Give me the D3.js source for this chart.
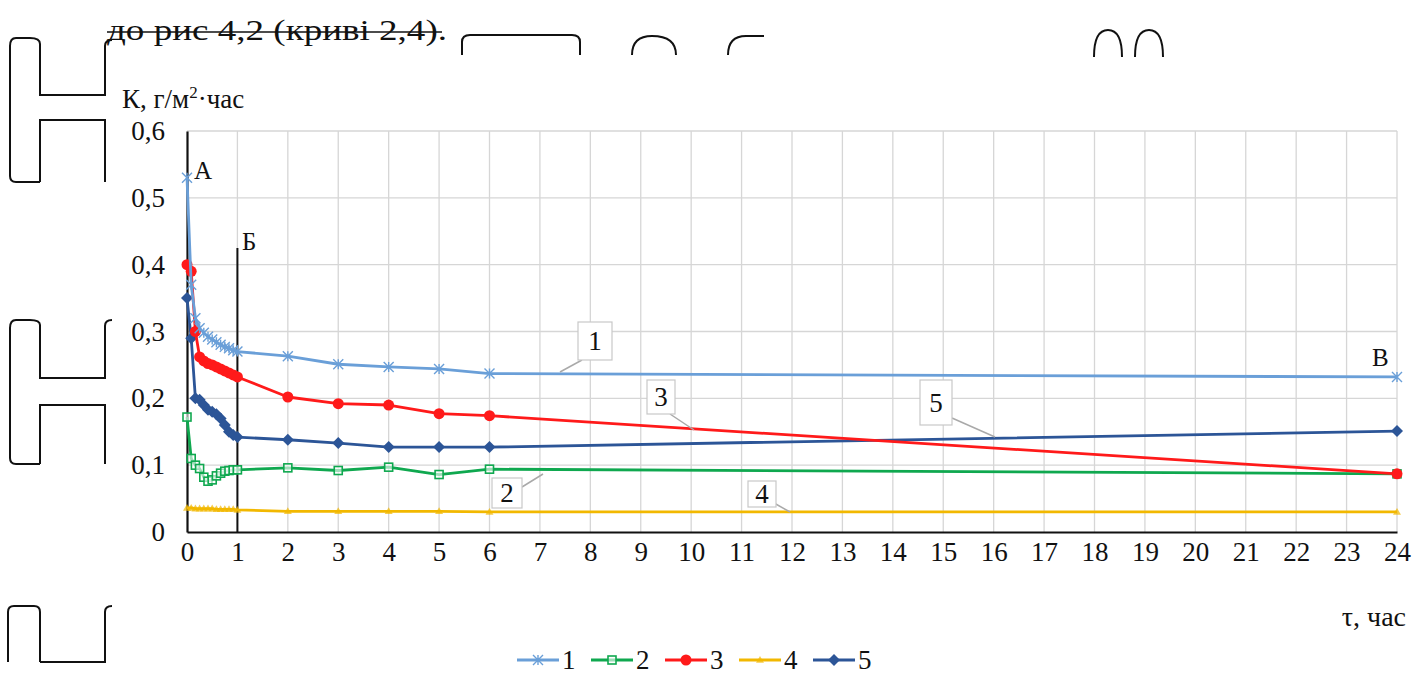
<!DOCTYPE html>
<html>
<head>
<meta charset="utf-8">
<script src="https://cdn.jsdelivr.net/npm/d3@7/dist/d3.min.js"></script>
<style>
  html, body { margin: 0; padding: 0; background: #fff; }
  svg { display: block; }
</style>
</head>
<body>
<svg id="chart" width="1413" height="675" style="font-family: 'Liberation Serif', 'Times New Roman', serif"></svg>
<script>
// Time points, hours: dense readings in the first hour, then hourly to 6 h and the 24 h reading
const times = [0, 1/12, 2/12, 3/12, 4/12, 5/12, 6/12, 7/12, 8/12, 9/12, 10/12, 11/12, 1, 2, 3, 4, 5, 6, 24];

// Corrosion rate K, g/m²·h, for curves 1–5
const series1 = [0.530, 0.370, 0.320, 0.305, 0.298, 0.292, 0.288, 0.284, 0.280, 0.277, 0.275, 0.272, 0.270, 0.263, 0.251, 0.247, 0.244, 0.237, 0.232];
const series2 = [0.172, 0.110, 0.100, 0.095, 0.082, 0.076, 0.078, 0.084, 0.088, 0.091, 0.092, 0.093, 0.093, 0.096, 0.092, 0.097, 0.086, 0.094, 0.087];
const series3 = [0.400, 0.390, 0.300, 0.262, 0.256, 0.252, 0.250, 0.247, 0.244, 0.241, 0.238, 0.235, 0.232, 0.202, 0.192, 0.190, 0.177, 0.174, 0.087];
const series4 = [0.036, 0.036, 0.035, 0.035, 0.035, 0.035, 0.035, 0.034, 0.034, 0.034, 0.034, 0.034, 0.033, 0.031, 0.031, 0.031, 0.031, 0.030, 0.030];
const series5 = [0.350, 0.290, 0.200, 0.198, 0.190, 0.183, 0.180, 0.176, 0.170, 0.160, 0.150, 0.145, 0.142, 0.138, 0.133, 0.127, 0.127, 0.127, 0.151];

const seriesNames = ["1", "2", "3", "4", "5"];
const seriesValues = [series1, series2, series3, series4, series5];
const seriesColors = ["#6a9fd8", "#0fa84f", "#ff1a1a", "#f2b800", "#2c5597"];
const seriesMarkers = ["cross", "square", "circle", "triangle", "diamond"];

const xTicks = d3.range(0, 25);
const yTicks = [0, 0.1, 0.2, 0.3, 0.4, 0.5, 0.6];

const FONT = "Liberation Serif";
const svg = d3.select("#chart");
const x = d3.scaleLinear().domain([0, 24]).range([187, 1397]);
const y = d3.scaleLinear().domain([0, 0.6]).range([532, 131]);
const fmt = v => (v === 0 ? "0" : d3.format(".1f")(v).replace(".", ","));

// text helper: serif face set on every label
function label(parent, px, py, size, str) {
  return parent.append("text").attr("x", px).attr("y", py)
    .style("font-family", FONT).style("font-size", size + "px").attr("fill", "#111").text(str);
}

// decorative bracket outlines from the page layout
const deco = svg.append("g").attr("fill", "none").attr("stroke", "#111").attr("stroke-width", 2);
const bracketPaths = [
  "M40,44 Q40,38 30,38 L16,38 Q10,38 10,46 L10,176 Q10,182 16,182 L40,182",
  "M40,44 L40,95 L105,95 L105,46 Q105,40 112,40",
  "M40,182 L40,120 L105,120 L105,182",
  "M40,325 Q40,320 30,320 L16,320 Q10,320 10,328 L10,458 Q10,464 16,464 L40,464",
  "M40,325 L40,378 L105,378 L105,326 Q105,320 112,320",
  "M40,464 L40,405 L105,405 L105,464",
  "M40,662 L40,612 Q40,606 34,606 L14,606 Q8,606 8,612 L8,662 M40,662 L105,662 L105,612 Q105,606 112,606",
  "M462,55 L462,42 Q462,35 470,35 L572,35 Q580,35 580,42 L580,55",
  "M632,55 Q632,36 652,36 Q676,36 676,55",
  "M728,55 Q728,36 746,36 L764,36",
  "M1094,57 Q1094,30 1108,30 Q1122,30 1122,57",
  "M1135,57 Q1135,30 1149,30 Q1163,30 1163,57"
];
bracketPaths.forEach(p => deco.append("path").attr("d", p));

// heading line of the page with its strike-through
label(svg, 107, 40, 29, "до рис 4,2 (криві 2,4).").attr("textLength", 340).attr("lengthAdjust", "spacingAndGlyphs");
svg.append("line").attr("x1", 107).attr("x2", 442).attr("y1", 32).attr("y2", 32)
  .attr("stroke", "#111").attr("stroke-width", 1.5);

// grid
const grid = svg.append("g").attr("stroke", "#d6d6d6").attr("stroke-width", 1.3);
grid.selectAll("line.v").data(xTicks.filter(t => t > 0)).join("line")
  .attr("x1", d => x(d)).attr("x2", d => x(d)).attr("y1", y(0.6)).attr("y2", y(0));
grid.selectAll("line.h").data(yTicks.filter(t => t > 0)).join("line")
  .attr("x1", x(0)).attr("x2", x(24)).attr("y1", d => y(d)).attr("y2", d => y(d));

// axes
const xAxis = d3.axisBottom(x).tickValues(xTicks).tickSize(0).tickPadding(10).tickFormat(d => d);
const gx = svg.append("g").attr("transform", `translate(0,${y(0)})`).call(xAxis)
  .attr("font-family", null).attr("font-size", null);
gx.select(".domain").attr("stroke", "#111").attr("stroke-width", 2.2);
gx.selectAll("text").attr("fill", "#111").style("font-family", FONT).style("font-size", "27px");

const yAxis = d3.axisLeft(y).tickValues(yTicks).tickSize(0).tickPadding(22).tickFormat(fmt);
const gy = svg.append("g").attr("transform", `translate(${x(0)},0)`).call(yAxis)
  .attr("font-family", null).attr("font-size", null);
gy.select(".domain").attr("stroke", "#111").attr("stroke-width", 2.2);
gy.selectAll("text").attr("fill", "#111").style("font-family", FONT).style("font-size", "27px");

// boundary line Б at 1 h
svg.append("line").attr("x1", x(1)).attr("x2", x(1)).attr("y1", 248).attr("y2", y(0))
  .attr("stroke", "#111").attr("stroke-width", 2);

// axis titles
const yTitle = label(svg, 122, 108, 27, "К, г/м");
yTitle.append("tspan").style("font-size", "17px").attr("dy", -10).text("2");
yTitle.append("tspan").attr("dy", 10).text("·час");
label(svg, 1406, 626, 28, "τ, час").attr("text-anchor", "end");

// point letters
label(svg, 194, 179, 25, "А");
label(svg, 242, 250, 25, "Б");
label(svg, 1372, 366, 25, "В");

// marker drawing
function drawMarker(g, type, cx, cy, color, s) {
  if (type === "cross") {
    g.append("path").attr("d", `M${cx - s},${cy - s}L${cx + s},${cy + s}M${cx - s},${cy + s}L${cx + s},${cy - s}M${cx},${cy - s}L${cx},${cy + s}`)
      .attr("stroke", color).attr("stroke-width", 1.4).attr("fill", "none");
  } else if (type === "square") {
    g.append("rect").attr("x", cx - s).attr("y", cy - s).attr("width", 2 * s).attr("height", 2 * s)
      .attr("fill", "#fff").attr("fill-opacity", 0.6).attr("stroke", color).attr("stroke-width", 1.6);
  } else if (type === "circle") {
    g.append("circle").attr("cx", cx).attr("cy", cy).attr("r", s).attr("fill", color);
  } else if (type === "triangle") {
    g.append("path").attr("d", `M${cx},${cy - s}L${cx + s},${cy + s * 0.7}L${cx - s},${cy + s * 0.7}Z`)
      .attr("fill", color).attr("fill-opacity", 0.7);
  } else if (type === "diamond") {
    g.append("path").attr("d", `M${cx},${cy - s}L${cx + s},${cy}L${cx},${cy + s}L${cx - s},${cy}Z`).attr("fill", color);
  }
}
const markerSize = [5, 4, 5.5, 4, 6];

const line = d3.line().x(d => x(d[0])).y(d => y(d[1]));
const drawOrder = [3, 1, 4, 2, 0];
drawOrder.forEach(i => {
  const pts = times.map((t, j) => [t, seriesValues[i][j]]);
  const g = svg.append("g");
  g.append("path").attr("d", line(pts)).attr("fill", "none")
    .attr("stroke", seriesColors[i]).attr("stroke-width", 2.8).attr("stroke-linejoin", "round");
  pts.forEach(p => drawMarker(g, seriesMarkers[i], x(p[0]), y(p[1]), seriesColors[i], markerSize[i]));
});

// curve callouts with leader lines
const callouts = [
  { name: "1", box: [578, 322, 34, 38] },
  { name: "2", box: [492, 478, 30, 30] },
  { name: "3", box: [647, 380, 28, 34] },
  { name: "4", box: [748, 481, 28, 26] },
  { name: "5", box: [920, 380, 32, 45] }
];
const leaderTargets = [[560, 372], [543, 474], [694, 430], [790, 512], [995, 437]];
const leaderStarts = [[582, 360], [522, 487], [670, 414], [774, 503], [952, 418]];
const cg = svg.append("g");
callouts.forEach((c, k) => {
  cg.append("line").attr("x1", leaderStarts[k][0]).attr("y1", leaderStarts[k][1])
    .attr("x2", leaderTargets[k][0]).attr("y2", leaderTargets[k][1])
    .attr("stroke", "#a9a9a9").attr("stroke-width", 1.5);
  cg.append("rect").attr("x", c.box[0]).attr("y", c.box[1]).attr("width", c.box[2]).attr("height", c.box[3])
    .attr("fill", "#fff").attr("stroke", "#c8c8c8").attr("stroke-width", 1.2);
  label(cg, c.box[0] + c.box[2] / 2, c.box[1] + c.box[3] / 2 + 9, 27, c.name).attr("text-anchor", "middle");
});

// legend
const legend = svg.append("g").attr("transform", "translate(517,660)");
seriesNames.forEach((n, i) => {
  const g = legend.append("g").attr("transform", `translate(${i * 74},0)`);
  g.append("line").attr("x1", 0).attr("x2", 42).attr("y1", 0).attr("y2", 0)
    .attr("stroke", seriesColors[i]).attr("stroke-width", 2.8);
  drawMarker(g, seriesMarkers[i], 21, 0, seriesColors[i], markerSize[i]);
  label(g, 45, 9, 27, n);
});
</script>
</body>
</html>
